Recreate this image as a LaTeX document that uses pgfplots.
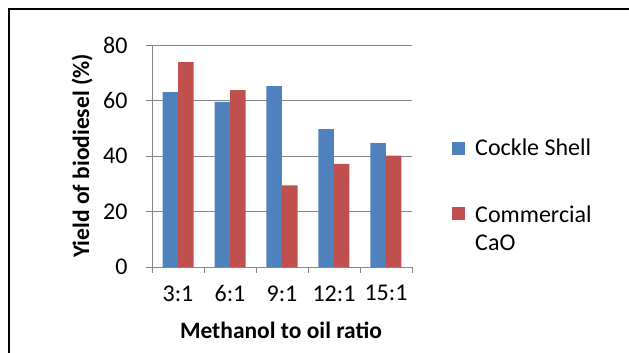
\documentclass[border=0pt]{standalone}
\usepackage{fontspec}
\setmainfont{Carlito}
\usepackage{pgfplots}
\pgfplotsset{compat=1.18}
\definecolor{csblue}{HTML}{4F81BD}
\definecolor{cared}{HTML}{C0504D}
\definecolor{gridgray}{HTML}{868686}

\begin{document}
\begin{tikzpicture}
\path[use as bounding box] (0pt,0pt) rectangle (629pt,353pt);
% outer frame
\draw[line width=2.5pt] (9pt,-10pt) -- (9pt,344pt) -- (640pt,344pt);
\begin{axis}[
  at={(152pt,86pt)}, anchor=south west,
  scale only axis, width=260pt, height=222pt,
  ymin=0, ymax=80, ytick={0,20,...,80},
  xmin=-0.5, xmax=4.5,
  xtick={0,...,4}, xticklabels={3:1,6:1,9:1,12:1,15:1},
  minor xtick={-0.5,0.5,...,4.5},
  major x tick style={draw=none},
  ybar=0pt, bar width=15.5pt,
  axis x line*=bottom, axis y line*=left,
  x axis line style={-}, y axis line style={-},
  axis line style={gridgray, line width=0.8pt},
  ymajorgrids, grid style={gridgray, line width=0.8pt},
  tick style={gridgray, line width=0.8pt},
  tick align=outside,
  major tick length=6pt, minor tick length=6pt,
  /pgf/number format/assume math mode=true,
  tick label style={font=\fontsize{24}{28}\selectfont, black},
  x tick label style={yshift=-9pt},
  y tick label style={xshift=-15pt},
  every axis y label/.style={at={(axis description cs:-0.269,0.5)}, rotate=90, anchor=center},
  every axis x label/.style={at={(axis description cs:0.496,-0.284)}, anchor=center},
  label style={font=\fontsize{23.5}{27}\selectfont\bfseries},
  xlabel={Methanol to oil ratio},
  ylabel={Yield of biodiesel (\%)},
  legend style={at={(1.154,0.585)}, anchor=north west, draw=none, fill=none,
    inner sep=0pt, font=\fontsize{24}{28}\selectfont, row sep=41pt,
    /tikz/every odd column/.append style={column sep=8pt}},
  legend cell align=left,
  legend image code/.code={\path[#1,draw=none] (0pt,-6.5pt) rectangle (13pt,6.5pt);},
]
\addplot[fill=csblue, draw=none] coordinates {(0,63.0) (1,59.5) (2,65.2) (3,49.7) (4,44.6)};
\addplot[fill=cared, draw=none] coordinates {(0,73.8) (1,63.7) (2,29.4) (3,37.2) (4,40.1)};
\legend{Cockle Shell, {\begin{tabular}[t]{@{}l@{}}Commercial\\CaO\end{tabular}}}
\end{axis}
\end{tikzpicture}
\end{document}
